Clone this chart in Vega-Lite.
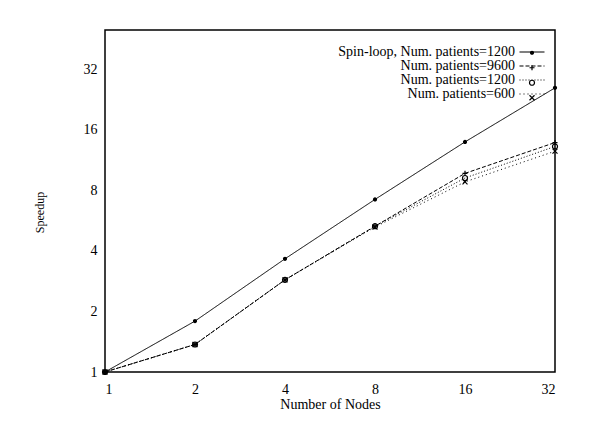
{
  "$schema": "https://vega.github.io/schema/vega-lite/v6.json",
  "width": 450,
  "height": 342,
  "autosize": "none",
  "padding": {"left": 105, "top": 30, "right": 36, "bottom": 55},
  "background": "white",
  "config": {
    "font": "Liberation Serif",
    "view": {"stroke": "black", "strokeWidth": 1.5},
    "axis": {
      "domain": false, "ticks": false, "tickSize": 0, "grid": false,
      "labelFont": "Liberation Serif", "labelFontSize": 14, "labelColor": "black", "labelPadding": 8,
      "titleFont": "Liberation Serif", "titleFontSize": 14, "titleFontWeight": "normal", "titleColor": "black"
    },
    "legend": {"labelFont": "Liberation Serif", "labelFontSize": 14, "labelColor": "black", "labelLimit": 400}
  },
  "data": {"values": [
    {"series": "Spin-loop, Num. patients=1200", "nodes": 1, "speedup": 1},
    {"series": "Spin-loop, Num. patients=1200", "nodes": 2, "speedup": 1.79},
    {"series": "Spin-loop, Num. patients=1200", "nodes": 4, "speedup": 3.65},
    {"series": "Spin-loop, Num. patients=1200", "nodes": 8, "speedup": 7.2},
    {"series": "Spin-loop, Num. patients=1200", "nodes": 16, "speedup": 13.9},
    {"series": "Spin-loop, Num. patients=1200", "nodes": 32, "speedup": 25.8},
    {"series": "Num. patients=9600", "nodes": 1, "speedup": 1},
    {"series": "Num. patients=9600", "nodes": 2, "speedup": 1.37},
    {"series": "Num. patients=9600", "nodes": 4, "speedup": 2.87},
    {"series": "Num. patients=9600", "nodes": 8, "speedup": 5.3},
    {"series": "Num. patients=9600", "nodes": 16, "speedup": 9.7},
    {"series": "Num. patients=9600", "nodes": 32, "speedup": 13.8},
    {"series": "Num. patients=1200", "nodes": 1, "speedup": 1},
    {"series": "Num. patients=1200", "nodes": 2, "speedup": 1.37},
    {"series": "Num. patients=1200", "nodes": 4, "speedup": 2.87},
    {"series": "Num. patients=1200", "nodes": 8, "speedup": 5.3},
    {"series": "Num. patients=1200", "nodes": 16, "speedup": 9.2},
    {"series": "Num. patients=1200", "nodes": 32, "speedup": 13.2},
    {"series": "Num. patients=600", "nodes": 1, "speedup": 1},
    {"series": "Num. patients=600", "nodes": 2, "speedup": 1.37},
    {"series": "Num. patients=600", "nodes": 4, "speedup": 2.87},
    {"series": "Num. patients=600", "nodes": 8, "speedup": 5.25},
    {"series": "Num. patients=600", "nodes": 16, "speedup": 8.8},
    {"series": "Num. patients=600", "nodes": 32, "speedup": 12.5}
  ]},
  "layer": [
    {
      "mark": {"type": "line", "color": "black", "strokeWidth": 1},
      "encoding": {
        "x": {"field": "nodes", "type": "quantitative", "scale": {"type": "log", "base": 2, "domain": [1, 32], "nice": false},
              "axis": {"orient": "bottom", "values": [1, 2, 4, 8, 16, 32], "format": "d",
                       "labelPadding": 10, "title": "Number of Nodes", "titlePadding": 1}},
        "y": {"field": "speedup", "type": "quantitative", "scale": {"type": "log", "base": 2, "domain": [1, 50], "nice": false},
              "axis": {"orient": "left", "values": [1, 2, 4, 8, 16, 32], "format": "d",
                       "title": "Speedup", "titleFontSize": 12, "titleX": -59, "titleY": 182, "titleAngle": -90}},
        "strokeDash": {
          "field": "series", "type": "nominal",
          "scale": {"domain": ["Spin-loop, Num. patients=1200", "Num. patients=9600", "Num. patients=1200", "Num. patients=600"],
                    "range": [[1, 0], [4, 2], [1, 2], [1, 3]]},
          "legend": {"title": null, "orient": "none", "legendX": 420, "legendY": 15, "symbolType": "M-2.5,0L2.5,0", "symbolSize": 100,
                     "symbolStrokeColor": "black", "symbolStrokeWidth": 1.2, "symbolFillColor": "transparent", "labelAlign": "right", "labelOffset": -24,
                     "rowPadding": -1.3}
        }
      }
    },
    {
      "mark": {"type": "point", "color": "black", "filled": false, "strokeWidth": 1.2, "size": 25, "opacity": 1},
      "encoding": {
        "x": {"field": "nodes", "type": "quantitative"},
        "y": {"field": "speedup", "type": "quantitative"},
        "shape": {
          "field": "series", "type": "nominal",
          "scale": {
            "domain": ["Num. patients=600", "Num. patients=1200", "Num. patients=9600", "Spin-loop, Num. patients=1200"],
            "range": [
              "M-1,-1L1,1M-1,1L1,-1",
              "circle",
              "M-1,0L1,0M0,-1L0,1",
              "M-0.6,0A0.6,0.6 0 1,0 0.6,0A0.6,0.6 0 1,0 -0.6,0M-0.6,0L0.6,0M0,-0.6L0,0.6"
            ]},
          "legend": {"title": null, "orient": "none", "legendX": 420, "legendY": 16.5, "symbolSize": 25,
                     "values": ["Spin-loop, Num. patients=1200", "Num. patients=9600", "Num. patients=1200", "Num. patients=600"],
                     "symbolStrokeColor": "black", "symbolStrokeWidth": 1.2, "symbolFillColor": "transparent", "labelOpacity": 0, "labelExpr": "''",
                     "clipHeight": 12.5, "rowPadding": 0}
        }
      }
    }
  ]
}
